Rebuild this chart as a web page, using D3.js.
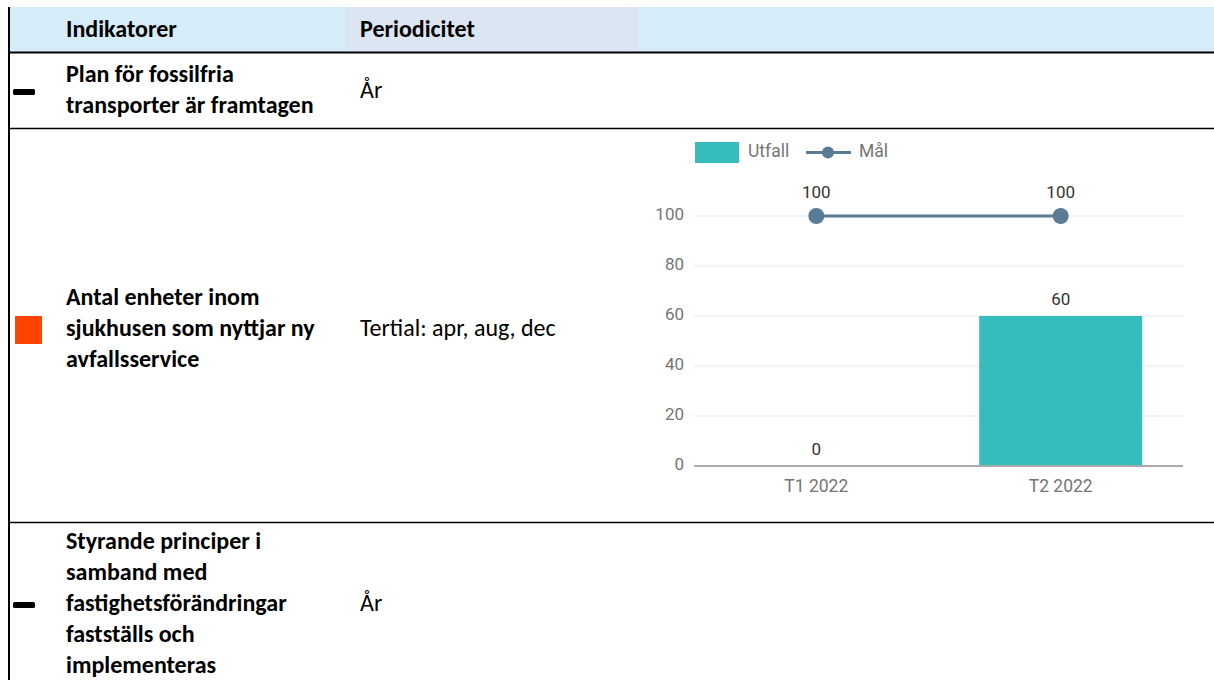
<!DOCTYPE html>
<html>
<head>
<meta charset="utf-8">
<script src="https://cdn.jsdelivr.net/npm/d3@7"></script>
<style>
  body { margin: 0; background: #fff; }
</style>
</head>
<body>
<div id="app"></div>
<script>
// table content
const headers = ["Indikatorer", "Periodicitet"];
const indicators = [
  ["Plan för fossilfria", "transporter är framtagen"],
  ["Antal enheter inom", "sjukhusen som nyttjar ny", "avfallsservice"],
  ["Styrande principer i", "samband med", "fastighetsförändringar", "fastställs och", "implementeras"]
];
const periods = ["År", "Tertial: apr, aug, dec", "År"];
const statuses = ["none", "red", "none"];

// chart data
const categories = ["T1 2022", "T2 2022"];
const utfall = [0, 60];
const mal = [100, 100];
const yTicks = [0, 20, 40, 60, 80, 100];

const W = 1214, H = 680;
const tableFont = "Carlito, Lato, sans-serif";
const tableSize = 24;
const chartFont = "Roboto, sans-serif";

const svg = d3.create("svg")
  .attr("width", W)
  .attr("height", H)
  .attr("viewBox", [0, 0, W, H]);

// header background
svg.append("rect").attr("x", 9).attr("y", 7).attr("width", W - 9).attr("height", 45).attr("fill", "#d6ecf8");
svg.append("rect").attr("x", 345).attr("y", 7).attr("width", 293).attr("height", 45).attr("fill", "#dce6f3");

svg.append("g")
  .selectAll("text")
  .data(headers)
  .join("text")
  .attr("x", (d, i) => i === 0 ? 66 : 360)
  .attr("y", 31)
  .attr("dominant-baseline", "middle")
  .attr("font-family", tableFont)
  .attr("font-size", tableSize)
  .attr("font-weight", "bold")
  .attr("fill", "#000")
  .text(d => d);

// borders
svg.append("line").attr("x1", 9).attr("x2", W).attr("y1", 52.5).attr("y2", 52.5).attr("stroke", "#000").attr("stroke-width", 2);
svg.append("line").attr("x1", 9).attr("x2", W).attr("y1", 128.5).attr("y2", 128.5).attr("stroke", "#000").attr("stroke-width", 1.5);
svg.append("line").attr("x1", 9).attr("x2", W).attr("y1", 522.5).attr("y2", 522.5).attr("stroke", "#000").attr("stroke-width", 1.5);
svg.append("line").attr("x1", 9).attr("x2", 9).attr("y1", 7).attr("y2", H).attr("stroke", "#000").attr("stroke-width", 2);

// rows
const rowCenters = [92, 330, 605];
const lineH = 31;

indicators.forEach((lines, r) => {
  const c = rowCenters[r];
  const y0 = c - (lines.length - 1) * lineH / 2;
  svg.append("g")
    .selectAll("text")
    .data(lines)
    .join("text")
    .attr("x", 66)
    .attr("y", (d, i) => y0 + i * lineH)
    .attr("dominant-baseline", "middle")
    .attr("font-family", tableFont)
    .attr("font-size", tableSize)
    .attr("font-weight", "bold")
    .attr("fill", "#000")
    .text(d => d);

  svg.append("text")
    .attr("x", 360)
    .attr("y", c)
    .attr("dominant-baseline", "middle")
    .attr("font-family", tableFont)
    .attr("font-size", tableSize)
    .attr("fill", "#000")
    .text(periods[r]);

  if (statuses[r] === "red") {
    svg.append("rect").attr("x", 15).attr("y", c - 14).attr("width", 27).attr("height", 28).attr("fill", "#ff4500");
  } else {
    svg.append("rect").attr("x", 13).attr("y", c - 3).attr("width", 22).attr("height", 6).attr("rx", 1.5).attr("fill", "#000");
  }
});

// chart
const x = d3.scaleBand().domain(categories).range([694, 1183]).paddingInner(0.333).paddingOuter(0.167);
const y = d3.scaleLinear().domain([0, 100]).range([466, 216]);
const cx = d => x(d) + x.bandwidth() / 2;

const chart = svg.append("g").attr("font-family", chartFont);

chart.append("g")
  .selectAll("line")
  .data(yTicks.filter(d => d > 0))
  .join("line")
  .attr("x1", 694).attr("x2", 1183)
  .attr("y1", d => y(d)).attr("y2", d => y(d))
  .attr("stroke", "#eceff4")
  .attr("stroke-width", 1.5);

chart.append("g")
  .selectAll("text")
  .data(yTicks)
  .join("text")
  .attr("x", 684)
  .attr("y", d => y(d))
  .attr("text-anchor", "end")
  .attr("dominant-baseline", "middle")
  .attr("font-size", 17)
  .attr("fill", "#757575")
  .text(d => d);

// bars
chart.append("g")
  .selectAll("rect")
  .data(utfall)
  .join("rect")
  .attr("x", (d, i) => x(categories[i]))
  .attr("y", d => y(d))
  .attr("width", x.bandwidth())
  .attr("height", d => y(0) - y(d))
  .attr("fill", "#37bcbd");

chart.append("line")
  .attr("x1", 694).attr("x2", 1183)
  .attr("y1", y(0)).attr("y2", y(0))
  .attr("stroke", "#aaa")
  .attr("stroke-width", 2);

chart.append("g")
  .selectAll("text")
  .data(utfall)
  .join("text")
  .attr("x", (d, i) => cx(categories[i]))
  .attr("y", d => y(d) - 15)
  .attr("text-anchor", "middle")
  .attr("dominant-baseline", "middle")
  .attr("font-size", 17)
  .attr("fill", "#333")
  .text(d => d);

// target line
const line = d3.line().x((d, i) => cx(categories[i])).y(d => y(d));
chart.append("path")
  .attr("d", line(mal))
  .attr("fill", "none")
  .attr("stroke", "#5b7a96")
  .attr("stroke-width", 3);

chart.append("g")
  .selectAll("circle")
  .data(mal)
  .join("circle")
  .attr("cx", (d, i) => cx(categories[i]))
  .attr("cy", d => y(d))
  .attr("r", 8)
  .attr("fill", "#5b7a96");

chart.append("g")
  .selectAll("text")
  .data(mal)
  .join("text")
  .attr("x", (d, i) => cx(categories[i]))
  .attr("y", d => y(d) - 22)
  .attr("text-anchor", "middle")
  .attr("dominant-baseline", "middle")
  .attr("font-size", 17)
  .attr("fill", "#333")
  .text(d => d);

// x labels
chart.append("g")
  .selectAll("text")
  .data(categories)
  .join("text")
  .attr("x", d => cx(d))
  .attr("y", 487)
  .attr("text-anchor", "middle")
  .attr("dominant-baseline", "middle")
  .attr("font-size", 17.5)
  .attr("fill", "#757575")
  .text(d => d);

// legend
const legend = chart.append("g");
legend.append("rect").attr("x", 695).attr("y", 142).attr("width", 44).attr("height", 21).attr("fill", "#37bcbd");
legend.append("text").attr("x", 748).attr("y", 152.5).attr("dominant-baseline", "middle")
  .attr("font-size", 17.5).attr("fill", "#757575").text("Utfall");
legend.append("line").attr("x1", 806).attr("x2", 851).attr("y1", 152.5).attr("y2", 152.5)
  .attr("stroke", "#5b7a96").attr("stroke-width", 3);
legend.append("circle").attr("cx", 828).attr("cy", 152.5).attr("r", 6).attr("fill", "#5b7a96");
legend.append("text").attr("x", 859).attr("y", 152.5).attr("dominant-baseline", "middle")
  .attr("font-size", 17.5).attr("fill", "#757575").text("Mål");

document.getElementById("app").append(svg.node());
</script>
</body>
</html>
